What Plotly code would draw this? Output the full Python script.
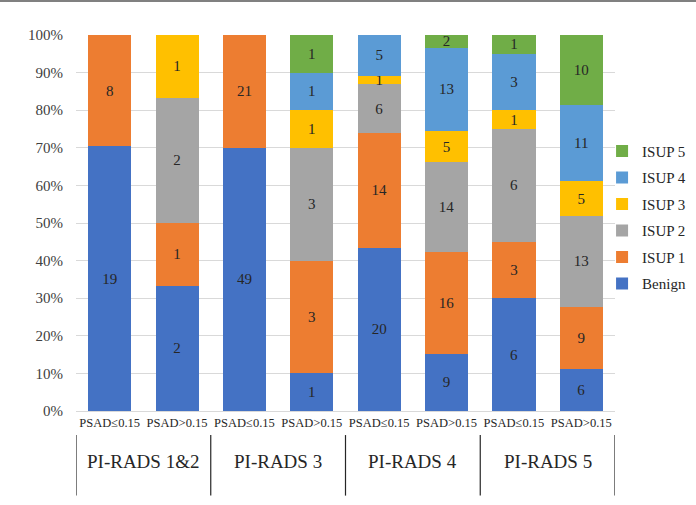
import plotly.graph_objects as go

categories = ["PSAD≤0.15", "PSAD>0.15"] * 4
groups = ["PI-RADS 1&2", "PI-RADS 3", "PI-RADS 4", "PI-RADS 5"]
series_names = ["Benign", "ISUP 1", "ISUP 2", "ISUP 3", "ISUP 4", "ISUP 5"]
benign = [19, 2, 49, 1, 20, 9, 6, 6]
isup1 = [8, 1, 21, 3, 14, 16, 3, 9]
isup2 = [0, 2, 0, 3, 6, 14, 6, 13]
isup3 = [0, 1, 0, 1, 1, 5, 1, 5]
isup4 = [0, 0, 0, 1, 5, 13, 3, 11]
isup5 = [0, 0, 0, 1, 0, 2, 1, 10]
series_values = [benign, isup1, isup2, isup3, isup4, isup5]
colors = ["#4472C4", "#ED7D31", "#A5A5A5", "#FFC000", "#5B9BD5", "#70AD47"]
y_ticks = list(range(0, 101, 10))
y_tick_labels = [f"{v}%" for v in y_ticks]

FONT = "Liberation Serif, Times New Roman, serif"
x_idx = list(range(len(categories)))

fig = go.Figure()
n = len(series_names)
for i, (name, vals, col) in enumerate(zip(series_names, series_values, colors)):
    fig.add_trace(go.Bar(
        x=x_idx, y=vals, name=name, legendgroup=name, legendrank=n - i,
        marker=dict(color=col, line=dict(width=0)),
        text=[str(v) if v else "" for v in vals],
        textposition="inside", insidetextanchor="middle", textangle=0,
        constraintext="none",
        textfont=dict(family=FONT, size=15, color="#262626"),
        hoverinfo="skip",
    ))

fig.update_layout(
    barmode="stack", barnorm="percent", bargap=0.36,
    width=696, height=505,
    margin=dict(l=76, r=81, t=35, b=94, autoexpand=False),
    plot_bgcolor="white", paper_bgcolor="white",
    font=dict(family=FONT, size=14, color="#404040"),
    uniformtext=dict(minsize=15, mode="show"),
    legend=dict(x=0.976, xanchor="left", y=0.515, yanchor="middle",
                traceorder="grouped", bgcolor="rgba(0,0,0,0)",
                font=dict(family=FONT, size=15, color="#262626"),
                itemwidth=30, tracegroupgap=4),
    showlegend=True,
)
fig.update_yaxes(range=[0, 100], tickvals=y_ticks, ticktext=y_tick_labels,
                 showgrid=True, gridcolor="#D9D9D9", gridwidth=1,
                 zeroline=False, showline=False, ticks="", ticklabelstandoff=12,
                 tickfont=dict(family=FONT, size=15, color="#404040"))
fig.update_xaxes(range=[-0.5, 7.5], tickvals=x_idx, ticktext=categories,
                 showgrid=False, zeroline=False, showline=True, linecolor="#D9D9D9",
                 linewidth=1, ticks="",
                 tickfont=dict(family=FONT, size=12.5, color="#262626"))

# group labels and dividers
for i, g in enumerate(groups):
    fig.add_annotation(x=2 * i + 0.5, xref="x", y=-0.135, yref="paper",
                       text=g, showarrow=False, yanchor="middle",
                       font=dict(family=FONT, size=19, color="#262626"))
for i in range(len(groups) + 1):
    fig.add_shape(type="line", xref="x", yref="paper",
                  x0=2 * i - 0.5, x1=2 * i - 0.5, y0=-0.064, y1=-0.225,
                  line=dict(color="#262626", width=1.2))

# top border line
fig.add_shape(type="line", xref="paper", yref="paper",
              x0=-76 / 539, x1=620 / 539, y0=1 + 34 / 376, y1=1 + 34 / 376,
              line=dict(color="#808080", width=2))

fig.write_html("out.html", config={"displayModeBar": False},
               post_script="document.body.style.margin='0';")
